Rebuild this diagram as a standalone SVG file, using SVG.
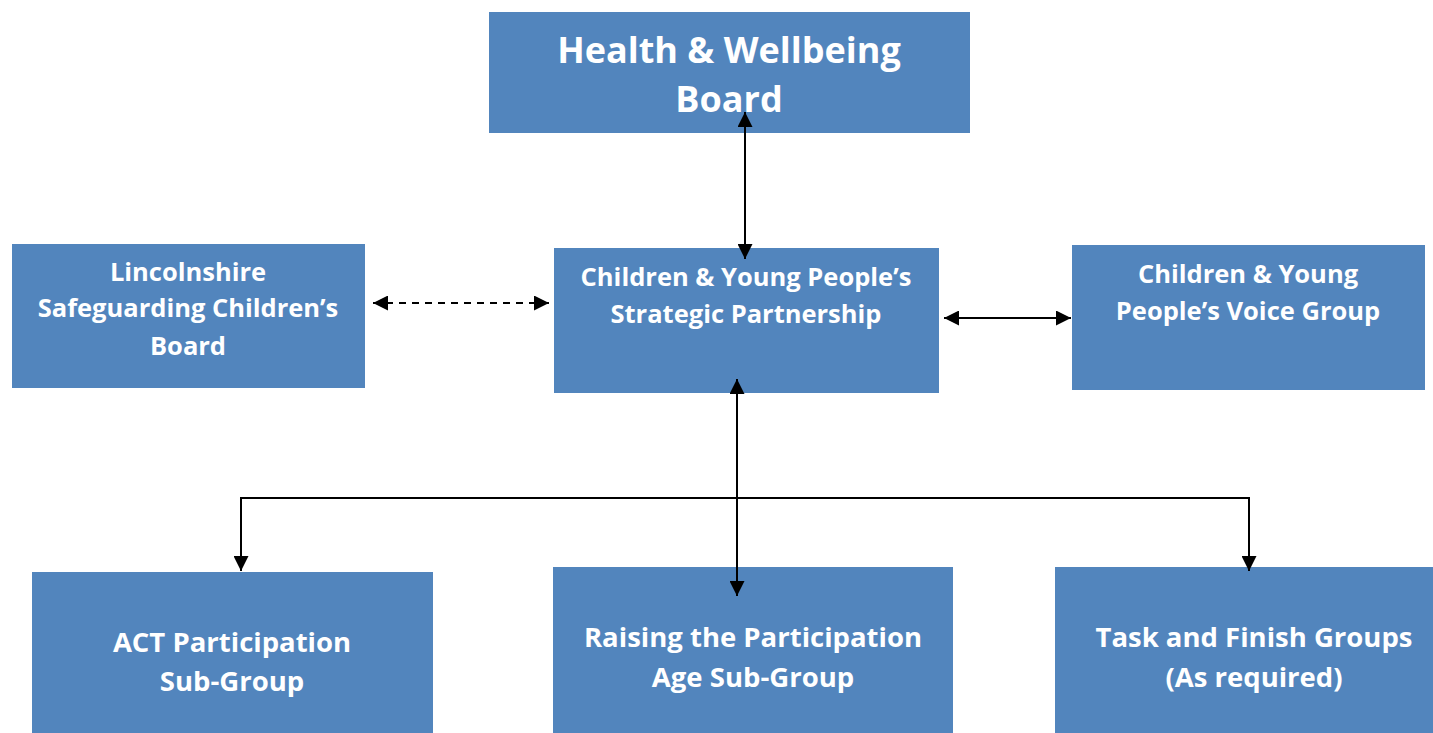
<svg xmlns="http://www.w3.org/2000/svg" width="1433" height="733" viewBox="0 0 1433 733">
  <style>
    .box { fill: #5285BD; }
    .lbl { font-family: "Open Sans", "Noto Sans", "Liberation Sans", sans-serif; font-weight: bold; fill: #FFFFFF; text-anchor: middle; dominant-baseline: central; }
    .big { font-size: 36px; }
    .mid { font-size: 27.5px; }
    .sm { font-size: 25.5px; }
    .ln { stroke: #000000; stroke-width: 2; fill: none; }
  </style>
  <defs>
    <marker id="arrL" viewBox="0 0 10 10" refX="10" refY="5" markerWidth="15" markerHeight="15" markerUnits="userSpaceOnUse" orient="auto-start-reverse">
      <path d="M0,0 L10,5 L0,10 Z" fill="#000000"/>
    </marker>
  </defs>
  <rect width="1433" height="733" fill="#FFFFFF"/>

  <g id="hwb">
    <rect class="box" x="489" y="12" width="481" height="121"/>
    <text class="lbl big" x="729" y="49">Health &amp; Wellbeing</text>
    <text class="lbl big" x="729" y="98">Board</text>
  </g>

  <g id="lscb">
    <rect class="box" x="12" y="244" width="353" height="144"/>
    <text class="lbl sm" x="188" y="271">Lincolnshire</text>
    <text class="lbl sm" x="188" y="307">Safeguarding Children’s</text>
    <text class="lbl sm" x="188" y="345">Board</text>
  </g>

  <g id="cypsp">
    <rect class="box" x="554" y="248" width="385" height="145"/>
    <text class="lbl sm" x="746" y="276">Children &amp; Young People’s</text>
    <text class="lbl sm" x="746" y="313">Strategic Partnership</text>
  </g>

  <g id="voice">
    <rect class="box" x="1072" y="245" width="353" height="145"/>
    <text class="lbl sm" x="1248" y="273">Children &amp; Young</text>
    <text class="lbl sm" x="1248" y="310">People’s Voice Group</text>
  </g>

  <g id="act">
    <rect class="box" x="32" y="572" width="401" height="161"/>
    <text class="lbl mid" x="232" y="641">ACT Participation</text>
    <text class="lbl mid" x="232" y="680">Sub-Group</text>
  </g>

  <g id="rpa">
    <rect class="box" x="553" y="567" width="400" height="166"/>
    <text class="lbl mid" x="753" y="636">Raising the Participation</text>
    <text class="lbl mid" x="753" y="676">Age Sub-Group</text>
  </g>

  <g id="tfg">
    <rect class="box" x="1055" y="567" width="378" height="166"/>
    <text class="lbl mid" x="1254" y="636">Task and Finish Groups</text>
    <text class="lbl mid" x="1254" y="676">(As required)</text>
  </g>

  <g id="connectors">
    <line class="ln" x1="745" y1="112" x2="745" y2="259" marker-start="url(#arrL)" marker-end="url(#arrL)"/>
    <line class="ln" x1="373" y1="303" x2="549" y2="303" stroke-dasharray="7,6" marker-start="url(#arrL)" marker-end="url(#arrL)"/>
    <line class="ln" x1="944" y1="318" x2="1071" y2="318" marker-start="url(#arrL)" marker-end="url(#arrL)"/>
    <line class="ln" x1="737" y1="379" x2="737" y2="596" marker-start="url(#arrL)" marker-end="url(#arrL)"/>
    <polyline class="ln" points="241,571 241,498 1249,498 1249,571" marker-start="url(#arrL)" marker-end="url(#arrL)"/>
  </g>
</svg>
